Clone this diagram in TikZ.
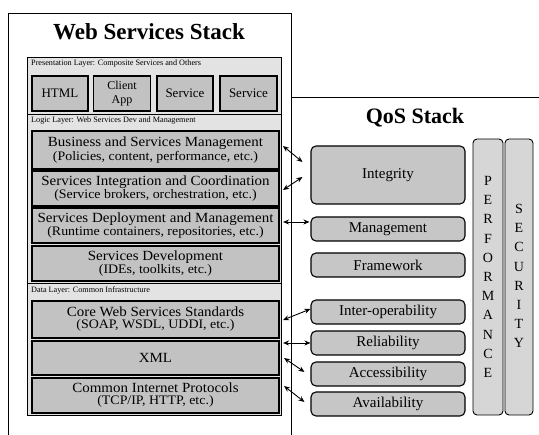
\documentclass[tikz,border=0pt]{standalone}
\usepackage{fontspec}
\setmainfont{Liberation Serif}
\newfontfamily\boxfont[FakeStretch=1.07]{Liberation Serif}
\usetikzlibrary{arrows.meta,calc}
\newcommand\mainsz{\boxfont\fontsize{14}{15.5}\selectfont}
\newcommand\subsz{\boxfont\fontsize{13}{15.5}\selectfont}
\tikzset{
 panel/.style={draw=black, line width=0.6pt, fill=gray!22, inner sep=0pt},
 wbox/.style={draw=black, line width=1.1pt, fill=gray!48, align=center, inner sep=0pt, minimum width=247pt},
 pbox/.style={draw=black, line width=1.1pt, fill=gray!48, align=center, inner sep=0pt, minimum height=35pt, font=\fontsize{13}{13}\selectfont},
 qbox/.style={draw=black, line width=1.1pt, fill=gray!45, rounded corners=5pt, inner sep=0pt, minimum width=154pt, minimum height=24pt, font=\fontsize{15}{15}\selectfont},
 colbox/.style={draw=black, line width=0.9pt, fill=gray!32, rounded corners=4pt, inner sep=0pt, minimum height=276pt},
 lbl/.style={font=\fontsize{8.2}{9}\selectfont, anchor=west, inner sep=0pt},
 arr/.style={{Stealth[length=6pt,width=5pt]}-{Stealth[length=6pt,width=5pt]}, line width=0.9pt},
 frame/.style={draw=black, line width=0.8pt}
}
\begin{document}
\begin{tikzpicture}[x=1pt,y=-1pt]
\useasboundingbox (0,0) rectangle (539,435);
% outer frames
\draw[frame] (8,435) -- (8,13) -- (291,13) -- (291,435);
\draw[frame] (291,97) -- (539,97);
\node[font=\fontsize{23}{23}\selectfont\bfseries] (wsstitle) at (149,32) {Web Services Stack};
\node[font=\fontsize{22}{22}\selectfont\bfseries] (qostitle) at (415,118) {QoS Stack};
% panels
\node[panel, anchor=north west, minimum width=254pt, minimum height=57pt] (pres) at (27,57) {};
\node[panel, anchor=north west, minimum width=254pt, minimum height=169pt] (logic) at (27,114) {};
\node[panel, anchor=north west, minimum width=254pt, minimum height=132pt] (data) at (27,283) {};
\node[lbl] (preslbl) at (31,63.5) {Presentation Layer: Composite Services and Others};
\node[lbl] (logiclbl) at (31,121) {Logic Layer: Web Services Dev and Management};
\node[lbl] (datalbl) at (31,291) {Data Layer: Common Infrastructure};
% presentation boxes
\node[pbox, minimum width=56pt] (html) at (60,93.5) {HTML};
\node[pbox, minimum width=57pt, font=\fontsize{12}{14}\selectfont] (client) at (122,93.5) {Client\\App};
\node[pbox, minimum width=56pt] (serv1) at (185,93.5) {Service};
\node[pbox, minimum width=57pt] (serv2) at (248.5,93.5) {Service};
% logic boxes
\node[wbox, minimum height=38pt] (biz) at (155.5,150) {\mainsz Business and Services Management\\ \subsz (Policies, content, performance, etc.)};
\node[wbox, minimum height=35pt] (integr) at (155.5,188.5) {\mainsz Services Integration and Coordination\\ \subsz (Service brokers, orchestration, etc.)};
\node[wbox, minimum height=35pt] (deploy) at (155.5,225.5) {\mainsz Services Deployment and Management\\ \subsz (Runtime containers, repositories, etc.)};
\node[wbox, minimum height=35pt] (devel) at (155.5,263.5) {\mainsz Services Development\\ \subsz (IDEs, toolkits, etc.)};
% data boxes
\node[wbox, minimum height=37pt] (core) at (155.5,319.5) {\mainsz Core Web Services Standards\\ \subsz (SOAP, WSDL, UDDI, etc.)};
\node[wbox, minimum height=34pt] (xml) at (155.5,358) {\mainsz XML};
\node[wbox, minimum height=35pt] (common) at (155.5,395.5) {\mainsz Common Internet Protocols\\ \subsz (TCP/IP, HTTP, etc.)};
% QoS boxes
\node[qbox, minimum height=58pt] (integ) at (388,175) {Integrity};
\node[qbox] (mgmt) at (388,229) {Management};
\node[qbox] (frame) at (388,265) {Framework};
\node[qbox] (interop) at (388,312) {Inter-operability};
\node[qbox] (rel) at (388,343) {Reliability};
\node[qbox] (acc) at (388,374) {Accessibility};
\node[qbox] (avail) at (388,404) {Availability};
% columns
\node[colbox, minimum width=30pt] (perf) at (488,277) {};
\node[colbox, minimum width=28pt] (sec) at (519,277) {};
\node[font=\fontsize{14}{19.2}\selectfont, align=center, inner sep=0pt] (perftxt) at (488,277) {P\\E\\R\\F\\O\\R\\M\\A\\N\\C\\E};
\node[font=\fontsize{14}{19.2}\selectfont, align=center, inner sep=0pt] (sectxt) at (519,276) {S\\E\\C\\U\\R\\I\\T\\Y};
% arrows
\draw[arr] ($(biz.east)+(3.5,-4)$) -- ($(integ.west)+(-8,-13)$);
\draw[arr] ($(integr.east)+(3.5,1.5)$) -- ($(integ.west)+(-8,2)$);
\draw[arr] ($(deploy.east)+(3.5,-3.5)$) -- ($(mgmt.west)+(-1,-7)$);
\draw[arr] ($(core.east)+(3.5,0.5)$) -- ($(interop.west)+(0,-3)$);
\draw[arr] ($(xml.east)+(3.5,-15)$) -- ($(rel.west)+(0,0)$);
\draw[arr] ($(xml.east)+(4.5,0)$) -- ($(acc.west)+(-6,-2)$);
\draw[arr] ($(common.east)+(4.5,-9.5)$) -- ($(avail.west)+(-6,-2)$);
\end{tikzpicture}
\end{document}
